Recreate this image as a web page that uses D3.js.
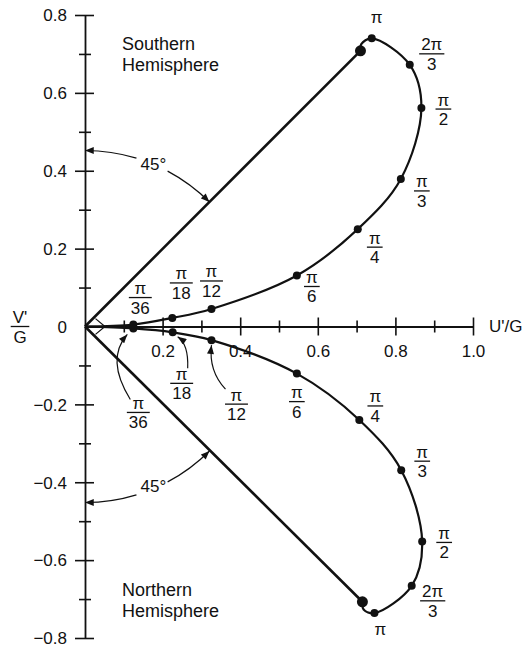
<!DOCTYPE html>
<html>
<head>
<meta charset="utf-8">
<script src="https://cdn.jsdelivr.net/npm/d3@7"></script>
<style>
  body { margin: 0; background: #fff; }
  svg { display: block; }
  text { font-family: "Liberation Sans", Arial, sans-serif; fill: #111; }
</style>
</head>
<body>
<div id="chart"></div>
<script>
// angle labels along each hodograph (null = unlabeled shape point)
const angleLabels = ['π/36', 'π/18', 'π/12', 'π/6', 'π/4', 'π/3', 'π/2', '2π/3', 'π', null, null]

// Southern Hemisphere branch (U'/G, V'/G)
const southU = [0.1245, 0.225, 0.326, 0.546, 0.703, 0.814, 0.867, 0.837, 0.739, 0.712, 0.710]
const southV = [0.005, 0.022, 0.045, 0.131, 0.250, 0.379, 0.561, 0.672, 0.740, 0.725, 0.708]

// Northern Hemisphere branch
const northU = [0.1245, 0.226, 0.326, 0.546, 0.707, 0.815, 0.869, 0.842, 0.746, 0.718, 0.715]
const northV = [-0.005, -0.015, -0.035, -0.121, -0.240, -0.369, -0.552, -0.666, -0.736, -0.727, -0.707]

const xMajor = [0.2, 0.4, 0.6, 0.8, 1.0]
const xMinor = [0.1, 0.3, 0.5, 0.7, 0.9]
const yMajor = [-0.8, -0.6, -0.4, -0.2, 0, 0.2, 0.4, 0.6, 0.8]
const yMinor = [-0.7, -0.5, -0.3, -0.1, 0.1, 0.3, 0.5, 0.7]

const WIDTH = 523
const HEIGHT = 647

// label placement (pixel offsets from each dot: fraction bar centre)
const southLabelOffsets = [[7, -27], [9, -35], [0, -28], [15, 11], [17, 18], [21, 12], [22, 1], [22, -11], [5, -15]]
const northLabelOffsets = [[5, 84], [9, 51], [25, 64], [0, 28], [16, -14], [21, -9], [22, 1], [21, 15], [6, 22]]
// curved pointer arrows for the crowded northern labels: [start, control, end] offsets
const northArrows = [
    [[-3, 71], [-28, 31], [-6, 6]],
    [[15, 36], [16, 12], [5, 4.5]],
    [[14, 49], [-3, 31], [0, 5]],
]

const svg = d3.select('#chart')
    .append('svg')
    .attr('width', WIDTH)
    .attr('height', HEIGHT)

const x = d3.scaleLinear().domain([0, 1]).range([85, 473])
const y = d3.scaleLinear().domain([-0.8, 0.8]).range([638, 15])
const ox = x(0)
const oy = y(0)

svg.append('defs').append('marker')
    .attr('id', 'arrow')
    .attr('viewBox', '0 0 10 8')
    .attr('refX', 10)
    .attr('refY', 4)
    .attr('markerWidth', 10)
    .attr('markerHeight', 7)
    .attr('markerUnits', 'userSpaceOnUse')
    .attr('orient', 'auto')
    .append('path')
    .attr('d', 'M0,0 L10,4 L0,8 Z')
    .attr('fill', '#111')

/**
 * Axes
 */
const yAxis = svg.append('g')
    .attr('transform', `translate(${ox},0)`)
    .call(d3.axisLeft(y).tickValues(yMajor).tickSize(10).tickSizeOuter(0).tickPadding(8)
        .tickFormat(d => d === 0 ? '0' : d3.format('.1f')(d)))
yAxis.selectAll('.tick line').attr('x1', 9)
yAxis.selectAll('.tick').filter(d => d === 0).select('line').remove()
const yMinorAxis = svg.append('g')
    .attr('transform', `translate(${ox},0)`)
    .call(d3.axisLeft(y).tickValues(yMinor).tickSize(6).tickSizeOuter(0).tickFormat(''))
yMinorAxis.selectAll('.tick line').attr('x1', 6)
yMinorAxis.select('.domain').remove()

const xAxis = svg.append('g')
    .attr('transform', `translate(0,${oy})`)
    .call(d3.axisBottom(x).tickValues(xMajor).tickSize(9).tickSizeOuter(0).tickPadding(9)
        .tickFormat(d3.format('.1f')))
xAxis.selectAll('.tick line').attr('y1', -9)
const xMinorAxis = svg.append('g')
    .attr('transform', `translate(0,${oy})`)
    .call(d3.axisBottom(x).tickValues(xMinor).tickSize(6).tickSizeOuter(0).tickFormat(''))
xMinorAxis.selectAll('.tick line').attr('y1', -6)
xMinorAxis.select('.domain').remove()

svg.selectAll('.domain').attr('stroke', '#111').attr('stroke-width', 1.8)
svg.selectAll('.tick line').attr('stroke', '#111').attr('stroke-width', 1.6)
svg.selectAll('.tick text')
    .attr('font-size', 17)
    .attr('font-family', '"Liberation Sans", Arial, sans-serif')
    .attr('fill', '#111')
yAxis.selectAll('.tick text').attr('dy', '0.34em')
xAxis.selectAll('.tick text')
    .attr('stroke', '#fff')
    .attr('stroke-width', 6)
    .attr('paint-order', 'stroke')

// axis titles
function fraction(g, num, den, cx, barY, size) {
    const top = g.append('text').attr('x', cx).attr('y', barY - 3.5)
        .attr('text-anchor', 'middle').attr('font-size', size).text(num)
    const bot = g.append('text').attr('x', cx).attr('y', barY + 16)
        .attr('text-anchor', 'middle').attr('font-size', size).text(den)
    const w = Math.max(top.node().getComputedTextLength(), bot.node().getComputedTextLength()) + 4
    g.append('line')
        .attr('x1', cx - w / 2).attr('x2', cx + w / 2)
        .attr('y1', barY).attr('y2', barY)
        .attr('stroke', '#111').attr('stroke-width', 1.3)
}

const titles = svg.append('g')
fraction(titles, "V'", 'G', 20, oy, 17)
titles.append('text').attr('x', 489).attr('y', oy + 5).attr('font-size', 17).text("U'/G")

/**
 * 45 degree lines and angle arcs
 */
const branches = [
    { u: southU, v: southV, sign: 1, offsets: southLabelOffsets, name: ['Southern', 'Hemisphere'], nameY: 50 },
    { u: northU, v: northV, sign: -1, offsets: northLabelOffsets, name: ['Northern', 'Hemisphere'], nameY: 596 },
]

const R = 176
const polar = (deg, sign) => {
    const a = deg * Math.PI / 180
    return [ox + R * Math.sin(a), oy - sign * R * Math.cos(a)]
}

branches.forEach(b => {
    const last = b.u.length - 1
    svg.append('line')
        .attr('x1', ox).attr('y1', oy)
        .attr('x2', x(b.u[last])).attr('y2', y(b.v[last]))
        .attr('stroke', '#111').attr('stroke-width', 2.6)

    // left arc to the V axis
    const p1 = polar(17, b.sign), p0 = polar(0, b.sign)
    svg.append('path')
        .attr('d', `M${p1[0]},${p1[1]} A${R},${R} 0 0 ${b.sign > 0 ? 0 : 1} ${p0[0]},${p0[1]}`)
        .attr('fill', 'none').attr('stroke', '#111').attr('stroke-width', 1.2)
        .attr('marker-end', 'url(#arrow)')
    // right arc to the 45 deg line
    const q1 = polar(28, b.sign), q0 = polar(45, b.sign)
    svg.append('path')
        .attr('d', `M${q1[0]},${q1[1]} A${R},${R} 0 0 ${b.sign > 0 ? 1 : 0} ${q0[0]},${q0[1]}`)
        .attr('fill', 'none').attr('stroke', '#111').attr('stroke-width', 1.2)
        .attr('marker-end', 'url(#arrow)')
    const t = polar(22.5, b.sign)
    svg.append('text')
        .attr('x', t[0] + 1).attr('y', t[1] + 6 - (b.sign < 0 ? 3 : 0))
        .attr('text-anchor', 'middle').attr('font-size', 17).text('45°')

    // hemisphere name
    svg.append('text')
        .attr('x', 122).attr('y', b.nameY).attr('font-size', 18).text(b.name[0])
    svg.append('text')
        .attr('x', 122).attr('y', b.nameY + 21).attr('font-size', 18).text(b.name[1])
})

// right-angle mark at the origin
const m = 10.5
svg.append('path')
    .attr('d', `M${ox + m},${oy - m * 0.75} L${ox + m * 1.9},${oy} L${ox + m},${oy + m * 0.75}`)
    .attr('fill', 'none').attr('stroke', '#111').attr('stroke-width', 1.2)

/**
 * Hodograph curves
 */
const line = d3.line()
    .x(d => x(d[0]))
    .y(d => y(d[1]))
    .curve(d3.curveCatmullRom.alpha(0.5))

branches.forEach(b => {
    const pts = [[0, 0], ...b.u.map((u, i) => [u, b.v[i]])]
    svg.append('path')
        .attr('d', line(pts))
        .attr('fill', 'none')
        .attr('stroke', '#111')
        .attr('stroke-width', 2.2)

    const last = b.u.length - 1
    svg.selectAll(null)
        .data(b.u.map((u, i) => ({ u, v: b.v[i], label: angleLabels[i] })).filter(d => d.label))
        .enter()
        .append('circle')
        .attr('cx', d => x(d.u))
        .attr('cy', d => y(d.v))
        .attr('r', 4)
        .attr('fill', '#111')
    svg.append('circle')
        .attr('cx', x(b.u[last])).attr('cy', y(b.v[last]))
        .attr('r', 5.5).attr('fill', '#111')

    // angle labels
    const lg = svg.append('g')
    angleLabels.forEach((lab, i) => {
        if (!lab) return
        const px = x(b.u[i]) + b.offsets[i][0]
        const py = y(b.v[i]) + b.offsets[i][1]
        if (lab.includes('/')) {
            const [num, den] = lab.split('/')
            fraction(lg, num, den, px, py, 17)
        } else {
            lg.append('text').attr('x', px).attr('y', py)
                .attr('text-anchor', 'middle').attr('font-size', 17).text(lab)
        }
    })
})

// pointer arrows for the first northern labels
northArrows.forEach((a, i) => {
    const dx = x(northU[i]), dy = y(northV[i])
    svg.append('path')
        .attr('d', `M${dx + a[0][0]},${dy + a[0][1]} Q${dx + a[1][0]},${dy + a[1][1]} ${dx + a[2][0]},${dy + a[2][1]}`)
        .attr('fill', 'none').attr('stroke', '#111').attr('stroke-width', 1.2)
        .attr('marker-end', 'url(#arrow)')
})
</script>
</body>
</html>
